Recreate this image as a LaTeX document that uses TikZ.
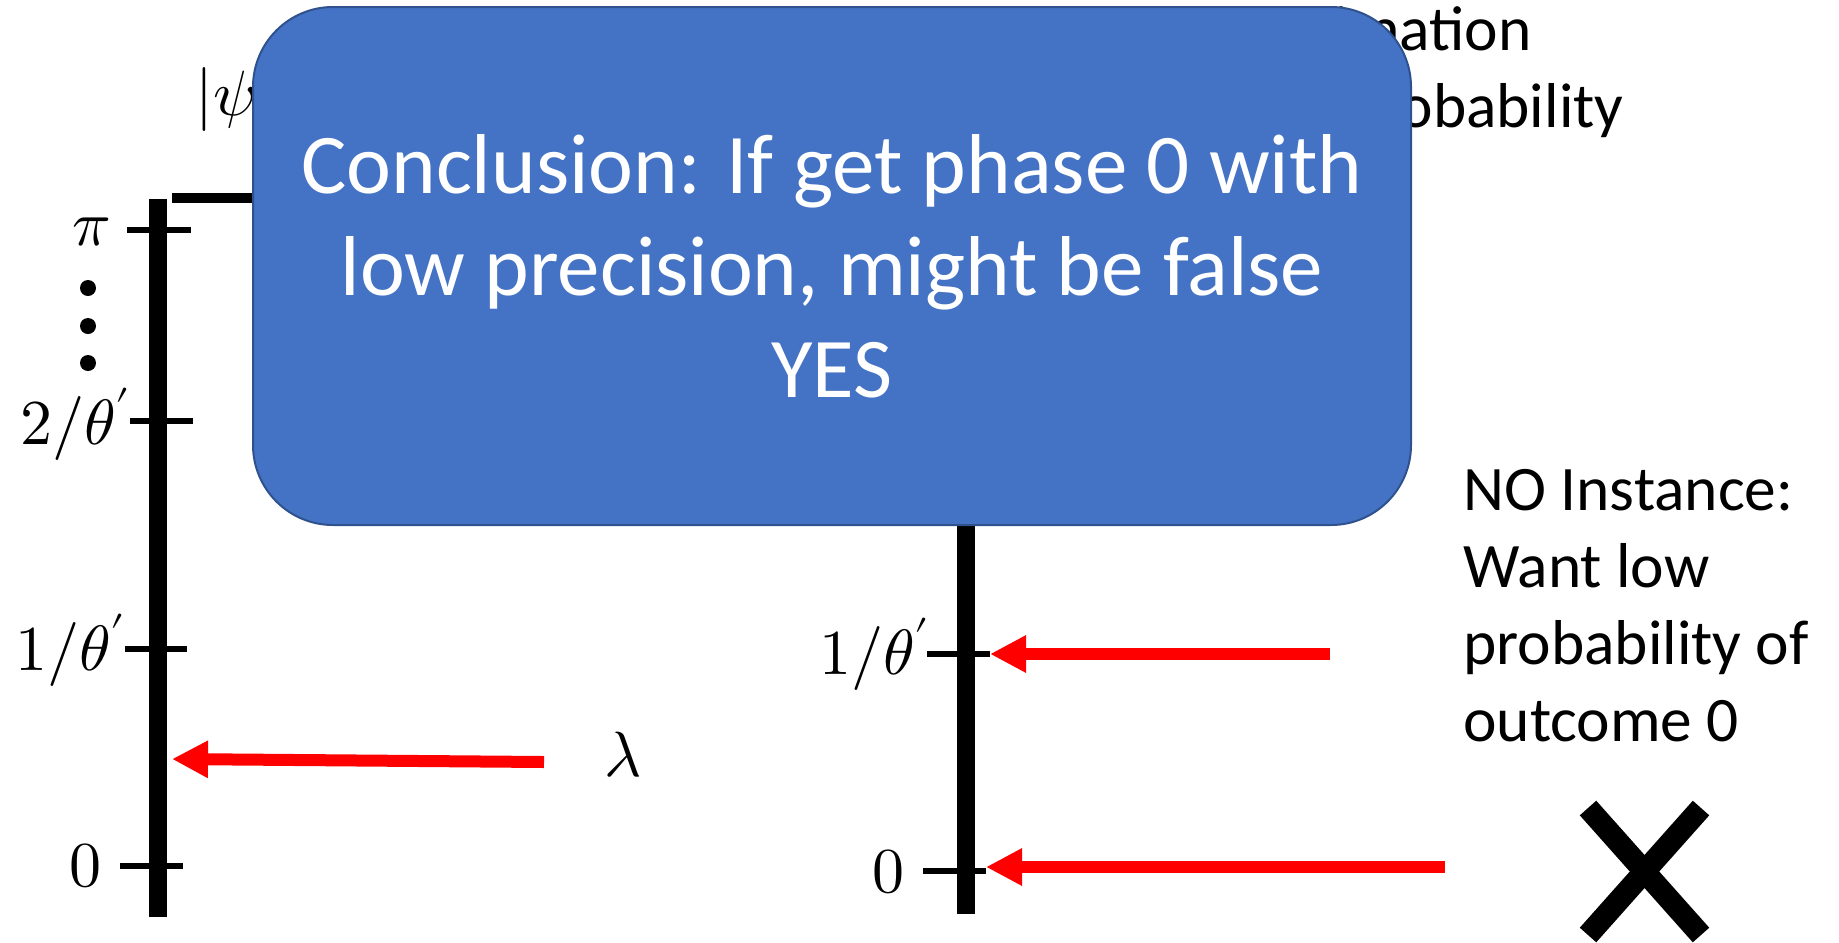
\documentclass[tikz,border=0pt]{standalone}
\usepackage{fontspec}
\usepackage{unicode-math}
\setmainfont{Carlito}
\setmathfont{Latin Modern Math}
\usetikzlibrary{arrows.meta}
\definecolor{boxblue}{HTML}{4472C4}
\definecolor{boxedge}{HTML}{2F528F}
\definecolor{arrred}{HTML}{FF0000}
\begin{document}
\begin{tikzpicture}[x=0.5pt,y=-0.5pt,
  axisline/.style={line width=9pt},
  tickline/.style={line width=3pt},
  wireline/.style={line width=5pt},
  ptr/.style={draw=arrred, line width=6pt, -{Triangle[length=18pt,width=17.5pt]}},
  crossline/.style={line width=11pt},
  mathlbl/.style={inner sep=0pt, font=\fontsize{32}{38}\selectfont},
  txt/.style={font=\fontsize{31.7}{38.5}\selectfont, align=left, inner sep=0pt},
  conclbox/.style={draw=boxedge, line width=1pt, fill=boxblue, rounded corners=40pt,
    minimum width=579pt, minimum height=259pt, inner sep=0pt},
  concltext/.style={text=white, align=center, font=\fontsize{42.5}{51}\selectfont, inner sep=0pt}]
\useasboundingbox (0,0) rectangle (1839,942);

% top-right text (partly hidden by the box)
\node[txt, anchor=base east] (t1) at (1532,50) {estimation};
\node[txt, anchor=base east] (t2) at (1624,127) {probability};

% left axis
\coordinate (LT) at (158,199);
\coordinate (LB) at (158,917);
\draw[axisline] (LT) -- (LB);
\coordinate (tpiA) at (127,230); \coordinate (tpiB) at (191,230);
\coordinate (t2A) at (130,421); \coordinate (t2B) at (193,421);
\coordinate (t1A) at (125,649); \coordinate (t1B) at (187,649);
\coordinate (t0A) at (120,866); \coordinate (t0B) at (183,866);
\draw[tickline] (tpiA) -- (tpiB);
\draw[tickline] (t2A) -- (t2B);
\draw[tickline] (t1A) -- (t1B);
\draw[tickline] (t0A) -- (t0B);
\fill (88,288) circle[radius=8];
\fill (88,326) circle[radius=8];
\fill (88,363) circle[radius=8];

\node[mathlbl] (pi) at (92,232) {$\pi$};
\node[mathlbl, anchor=east] (l2) at (131,424) {$2/\theta'$};
\node[mathlbl, anchor=east] (l1) at (126,650) {$1/\theta'$};
\node[mathlbl] (l0) at (85,866) {$0$};
\node[mathlbl] (lam) at (623,755) {$\lambda$};
\node[mathlbl, anchor=base west] (psi) at (195,115) {$|\psi\rangle$};

% wire
\coordinate (wA) at (172,198);
\coordinate (wB) at (320,198);
\draw[wireline] (wA) -- (wB);

% left arrow
\coordinate (la) at (544,762);
\coordinate (lb) at (172,759);
\draw[ptr] (la) -- (lb);

% right axis
\coordinate (RT) at (966,450);
\coordinate (RB) at (966,914);
\draw[axisline] (RT) -- (RB);
\coordinate (r1A) at (927,654); \coordinate (r1B) at (990,654);
\coordinate (r0A) at (923,871); \coordinate (r0B) at (986,871);
\draw[tickline] (r1A) -- (r1B);
\draw[tickline] (r0A) -- (r0B);
\node[mathlbl, anchor=east] (r1) at (930,654) {$1/\theta'$};
\node[mathlbl] (r0) at (888,872) {$0$};

\coordinate (ra1) at (1330,654);
\draw[ptr] (ra1) -- (r1B);
\coordinate (ra0) at (1445,867);
\coordinate (rb0) at (986,867);
\draw[ptr] (ra0) -- (rb0);

\node[txt, anchor=base west] (no) at (1463,741) {NO Instance:\\Want low\\probability of\\outcome 0};

% cross
\coordinate (x1) at (1588,808); \coordinate (x2) at (1701,935);
\coordinate (x3) at (1701,808); \coordinate (x4) at (1588,935);
\draw[crossline] (x1) -- (x2);
\draw[crossline] (x3) -- (x4);

% conclusion box
\node[conclbox] (concl) at (832,266) {};
\node[concltext, anchor=base] (ctext) at (832,397) {Conclusion: If get phase 0 with\\low precision, might be false\\YES};
\end{tikzpicture}
\end{document}
